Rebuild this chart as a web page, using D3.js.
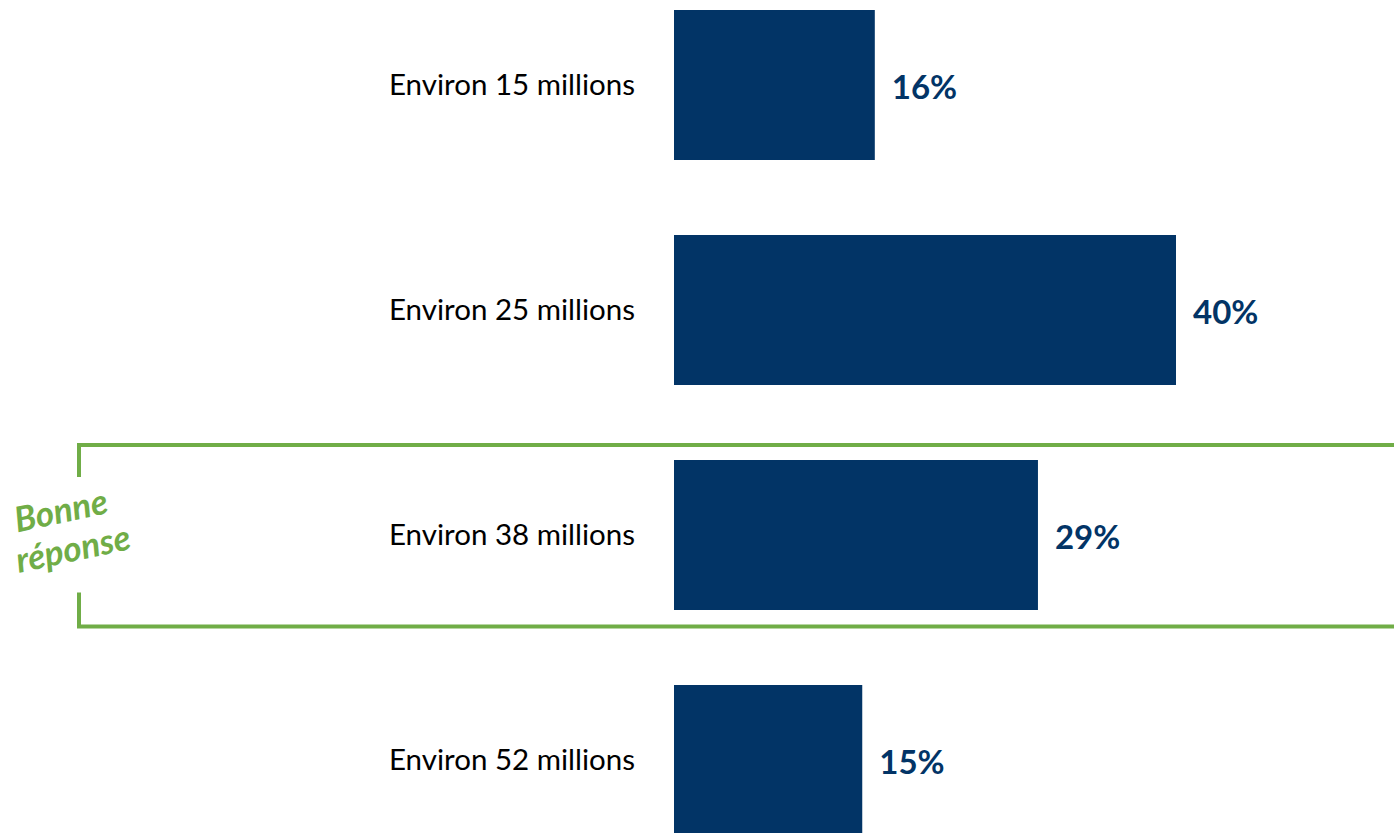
<!DOCTYPE html>
<html><head><meta charset="utf-8">
<script src="https://cdn.jsdelivr.net/npm/d3@7"></script>
<style>body{margin:0;background:#fff}svg{display:block}</style>
</head><body>
<script>
const categories = ["Environ 15 millions","Environ 25 millions","Environ 38 millions","Environ 52 millions"];
const values = [16, 40, 29, 15];
const highlightIndex = 2;
const highlightText = ["Bonne", "réponse"];

(function(){
const W = 1394, H = 833;
const barColor = "#023466", green = "#70ad47";
const svg = d3.select("body").append("svg").attr("width", W).attr("height", H);

const y = d3.scaleBand().domain(categories).range([-27.5, 872.5]).paddingInner(1/3).paddingOuter(1/6);
const x = d3.scaleLinear().domain([0, 40]).range([674, 1176]);

// highlight bracket
const hc = categories[highlightIndex];
const yTop = y(hc) - 15, yBot = y(hc) + y.bandwidth() + 16.5;
const bl = 79;
const g = svg.append("g").attr("stroke", green).attr("stroke-width", 4).attr("fill", "none");
g.append("path").attr("d", `M${W},${yTop} H${bl} V${yTop+32}`);
g.append("path").attr("d", `M${W},${yBot} H${bl} V${yBot-34}`);

svg.selectAll("rect.bar").data(values).join("rect")
  .attr("x", x(0)).attr("y", (d,i)=>y(categories[i]))
  .attr("width", d=>x(d)-x(0)).attr("height", y.bandwidth())
  .attr("fill", barColor);

svg.selectAll("text.cat").data(categories).join("text")
  .attr("x", 635).attr("y", d=>y(d)+y.bandwidth()/2)
  .attr("dy", "0.35em").attr("text-anchor", "end")
  .style("font-family", "Lato, 'Open Sans', sans-serif").style("font-size", "29.5px")
  .attr("fill", "#000").text(d=>d);

svg.selectAll("text.val").data(values).join("text")
  .attr("x", d=>x(d)+17).attr("y", (d,i)=>y(categories[i])+y.bandwidth()/2+2)
  .attr("dy", "0.35em")
  .style("font-family", "Lato, 'Open Sans', sans-serif").style("font-size", "33px").style("font-weight", "bold")
  .attr("fill", barColor).text(d=>d+"%");

const lab = svg.append("text").attr("transform", "translate(67,530) rotate(-12)")
  .attr("text-anchor", "middle").attr("fill", green)
  .style("font-family", "Lato, 'Open Sans', sans-serif").style("font-size", "35px")
  .style("font-weight", "bold").style("font-style", "italic");
lab.selectAll("tspan").data(highlightText).join("tspan")
  .attr("x", (d,i)=> i===0 ? -2 : 2).attr("y", (d,i)=> i===0 ? -8 : 32).text(d=>d);
})();
</script>
</body></html>
